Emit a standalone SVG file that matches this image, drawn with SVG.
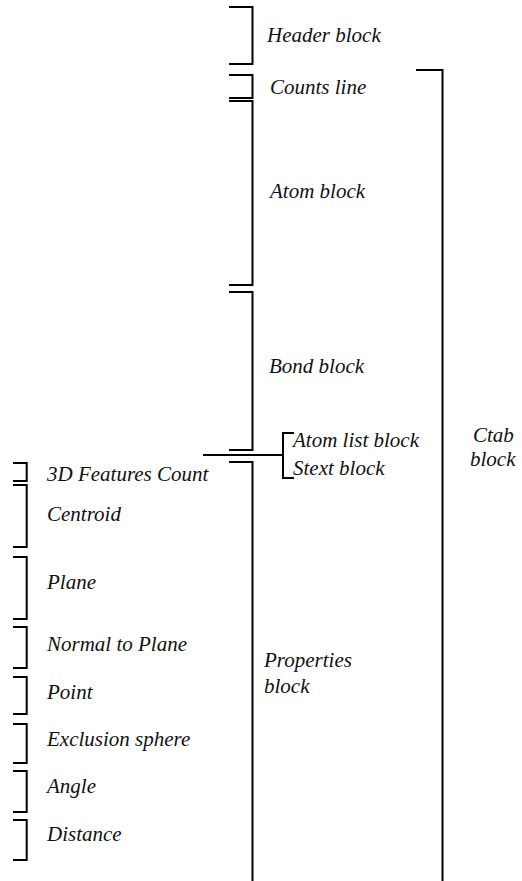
<svg xmlns="http://www.w3.org/2000/svg" width="522" height="881" viewBox="0 0 522 881">
<style>
.b{fill:none;stroke:#000;stroke-width:2;stroke-linecap:butt;stroke-linejoin:miter}
text{font-family:"Liberation Serif","Times New Roman",serif;font-style:italic;font-size:21px;fill:#111}
</style>
<rect width="522" height="881" fill="#fff"/>
<g id="header"><path class="b" d="M229,7H252.5V64H229"/><text x="267" y="42">Header block</text></g>
<g id="counts"><path class="b" d="M229,75H252.5V98H229"/><text x="270" y="94">Counts line</text></g>
<g id="atom"><path class="b" d="M229,101H252.5V285H229"/><text x="270" y="198">Atom block</text></g>
<g id="bond"><path class="b" d="M229,292H252.5V450H229"/><text x="269" y="373">Bond block</text></g>
<g id="atomlist"><path class="b" d="M294,433H283V478H294"/><text x="293" y="447">Atom list block</text><text x="293" y="475">Stext block</text></g>
<g id="properties"><path class="b" d="M229,462H252.5V881"/><text x="264" y="667">Properties</text><text x="264" y="693">block</text></g>
<g id="ctab"><path class="b" d="M416,70H442.5V881"/><text x="473" y="442">Ctab</text><text x="470" y="466">block</text></g>
<g id="f3d"><path class="b" d="M13,463H26.7V481H13"/><text x="47" y="481">3D Features Count</text></g>
<g id="centroid"><path class="b" d="M13,485H26.7V547H13"/><text x="47" y="521">Centroid</text></g>
<g id="plane"><path class="b" d="M13,557H26.7V619H13"/><text x="47" y="589">Plane</text></g>
<g id="normal"><path class="b" d="M13,627H26.7V668H13"/><text x="47" y="651">Normal to Plane</text></g>
<g id="point"><path class="b" d="M13,677H26.7V714H13"/><text x="47" y="699">Point</text></g>
<g id="exclusion"><path class="b" d="M13,724H26.7V763H13"/><text x="47" y="746">Exclusion sphere</text></g>
<g id="angle"><path class="b" d="M13,771H26.7V812H13"/><text x="47" y="793">Angle</text></g>
<g id="distance"><path class="b" d="M13,820H26.7V860H13"/><text x="47" y="841">Distance</text></g>
<g id="connectors"><path class="b" d="M203,455H283"/></g>
</svg>
